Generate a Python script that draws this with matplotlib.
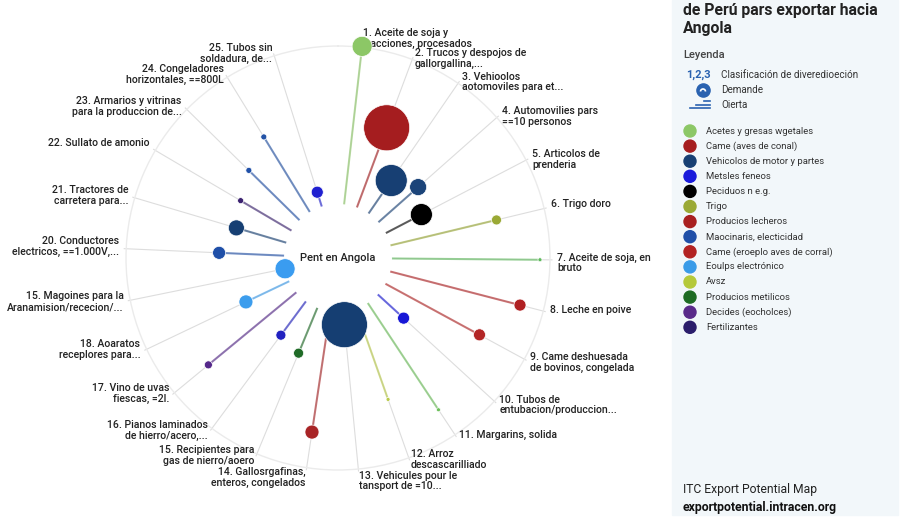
import numpy as np
import matplotlib.pyplot as plt
from matplotlib.patches import Rectangle, Arc

plt.rcParams['font.family'] = ['Roboto', 'DejaVu Sans']

# productos (en orden de clasificacion)
productos = [
    "1. Aceite de soja y\nfracciones, procesados",
    "2. Trucos y despojos de\ngallorgallina,...",
    "3. Vehioolos\naotomoviles para et...",
    "4. Automovilies pars\n==10 personos",
    "5. Articolos de\nprenderia",
    "6. Trigo doro",
    "7. Aceite de soja, en\nbruto",
    "8. Leche en poive",
    "9. Came deshuesada\nde bovinos, congelada",
    "10. Tubos de\nentubacion/produccion...",
    "11. Margarins, solida",
    "12. Arroz\ndescascarilliado",
    "13. Vehicules pour le\ntansport de =10...",
    "14. Gallosrgafinas,\nenteros, congelados",
    "15. Recipientes para\ngas de nierro/aoero",
    "16. Pianos laminados\nde hierro/acero,...",
    "17. Vino de uvas\nfiescas, =2l.",
    "18. Aoaratos\nreceplores para...",
    "15. Magoines para la\nAranamision/rececion/...",
    "20. Conductores\nelectricos, ==1.000V,...",
    "21. Tractores de\ncarretera para...",
    "22. Sullato de amonio",
    "23. Armarios y vitrinas\npara la produccion de...",
    "24. Congeladores\nhorizontales, ==800L",
    "25. Tubos sin\nsoldadura, de...",
]
# oferta -> distancia al centro, demanda -> radio de burbuja
oferta = [213, 139, 94, 107, 94, 163, 202, 188, 161, 89, 182, 150, 67,
          176, 103, 96, 168, 102, 54, 119, 106, 113, 125, 142, 69]
demanda = [10, 23, 16, 8.5, 11, 5, 2, 6, 6, 6, 2, 2, 23,
           7, 5, 5, 4, 7, 10, 6.5, 8, 3, 3, 3, 6]
color_prod = ["#8cc766", "#a51d1f", "#173f73", "#1b4479", "#000000", "#9aa935",
              "#5db95b", "#b02022", "#b32626", "#1717d6", "#6cbf5a", "#b9ca4a",
              "#153e72", "#a82426", "#1f6b27", "#2121c0", "#55288a", "#3c9ded",
              "#3a9cf0", "#1f4fa8", "#163f73", "#3b2270", "#2050a8", "#2352a5",
              "#2020d0"]

sectores = ["Acetes y gresas wgetales", "Came (aves de conal)", "Vehicolos de motor y partes",
            "Metsles feneos", "Peciduos n e.g.", "Trigo", "Producios lecheros",
            "Maocinaris, electicidad", "Came (eroeplo aves de corral)", "Eoulps electrónico",
            "Avsz", "Producios metilicos", "Decides (eocholces)", "Fertilizantes"]
color_sect = ["#8cc766", "#a51d1f", "#173f73", "#1a1adb", "#000000", "#9aa935",
              "#a82020", "#1f4fa8", "#b22222", "#3a9be8", "#b5c93a", "#1e6b23",
              "#5a2a8a", "#2b1d6b"]

# small vertical nudges of the labels (pixels, + = down)
ajuste_etiqueta = [-2, 6, 4.5, 3.5, 2.5, -3, 3, -3, 0, -1, -6, -5, 5,
                   3, -5, -3.5, -4, -3, 0, -2, 0, -4, 2, 3, 4]

W, H = 904, 519
fig = plt.figure(figsize=(W / 100, H / 100), dpi=100)

bg = fig.add_axes([0, 0, 1, 1])
bg.set_xlim(0, W)
bg.set_ylim(H, 0)
bg.axis('off')

cx, cy, R = 338, 258, 212
ax = fig.add_axes([(cx - R) / W, (H - cy - R) / H, 2 * R / W, 2 * R / H], projection='polar')
ax.set_theta_zero_location('N')
ax.set_theta_direction(-1)
ax.set_ylim(0, R)
ax.grid(False)
ax.set_xticks([])
ax.set_yticks([])
ax.patch.set_alpha(0)
ax.spines['polar'].set_color('#ebebeb')
ax.spines['polar'].set_linewidth(1.0)

ang_deg = 6.5 + 14 * np.arange(len(productos))
theta = np.deg2rad(ang_deg)
r0 = 55

for i in range(len(productos)):
    th = theta[i]
    ax.plot([th, th], [r0, 214], color='#dddddd', lw=0.8, clip_on=False, zorder=1)
    if oferta[i] > r0:
        ax.plot([th, th], [r0, oferta[i]], color=color_prod[i], alpha=0.6, lw=1.5,
                clip_on=False, zorder=2)
    ha = 'left' if ang_deg[i] < 180 else 'right'
    ax.annotate(productos[i], (th, 219), xytext=(0, -0.72 * ajuste_etiqueta[i]),
                textcoords='offset points', ha=ha, va='center', fontsize=7.6,
                color='#222222', weight='medium', linespacing=1.1, annotation_clip=False)

ax.scatter(theta, oferta, s=(2 * np.array(demanda) * 0.72) ** 2, c=color_prod,
           edgecolors='white', linewidths=0.5, zorder=3, clip_on=False)
ax.text(0, 0, "Pent en Angola", ha='center', va='center', fontsize=8, color='#222222',
        weight='medium')

# panel derecho
bg.add_patch(Rectangle((672, 0), 226, 515, color='#f2f7fa', zorder=0))
bg.text(683, 11, "de Perú pars exportar hacia", fontsize=11.3, weight='bold',
        va='center', color='#222222')
bg.text(683, 29, "Angola", fontsize=11.3, weight='bold', va='center', color='#222222')
bg.text(683, 55, "Leyenda", fontsize=8, va='center', color='#444444', weight='medium')

bg.text(686, 75, "1,2,3", fontsize=8, weight='bold', va='center', color='#2a62b0')
bg.text(721, 75, "Clasificación de diveredioeción", fontsize=7.1, va='center', color='#333333')
bg.scatter([703], [90], s=90, color='#2a62b0', zorder=3)
bg.add_patch(Arc((703, 91.5), 5, 5, theta1=180, theta2=360, color='white', lw=1.2, zorder=4))
bg.text(721, 90, "Demande", fontsize=7.1, va='center', color='#333333')
bg.plot([704, 710], [101, 101], color='#2a62b0', lw=1.2)
bg.plot([696, 710], [104.5, 104.5], color='#2a62b0', lw=1.2)
bg.plot([690, 710], [108, 108], color='#2a62b0', lw=1.2)
bg.text(721, 105, "Oierta", fontsize=7.1, va='center', color='#333333')

ys = 131 + 15.1 * np.arange(len(sectores))
bg.scatter(np.full(len(sectores), 690), ys, s=75, c=color_sect, zorder=3)
for y, t in zip(ys, sectores):
    bg.text(706, y, t, fontsize=6.8, va='center', color='#333333')

bg.text(683, 490, "ITC Export Potential Map", fontsize=8.7, va='center', color='#222222')
bg.text(683, 507, "exportpotential.intracen.org", fontsize=8.8, weight='bold',
        va='center', color='#111111')

fig.savefig('out.png', dpi=100)
